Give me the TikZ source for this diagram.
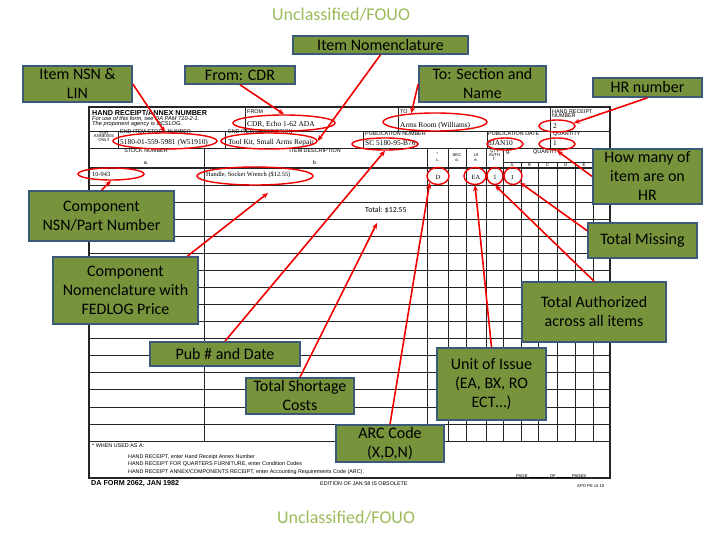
\documentclass[tikz,border=0pt]{standalone}
\usepackage{fontspec}
\setmainfont{Carlito}
\newfontfamily\formsans{Liberation Sans}
\newfontfamily\formserif{Liberation Serif}
\usetikzlibrary{shapes.geometric,arrows.meta}

\definecolor{vertbulle}{HTML}{77933C}
\definecolor{bordbulle}{HTML}{3B5A78}
\definecolor{vertclair}{HTML}{9BBB59}
\definecolor{rougefleche}{HTML}{F00000}

\begin{document}
\begin{tikzpicture}[x=1pt,y=-1pt,
  bulle/.style={rectangle, draw=bordbulle, line width=1.6pt, fill=vertbulle, inner sep=0pt, align=center, font=\fontsize{16}{19}\selectfont},
  entoure/.style={ellipse, draw=rougefleche, line width=1.4pt, inner sep=0pt},
  fleche/.style={draw=rougefleche, line width=1.6pt, -{Stealth[length=6pt,width=5pt]}},
  etiq/.style={anchor=base west, inner sep=0pt, font=\formsans\fontsize{5.4}{5.4}\selectfont},
  etiqmini/.style={anchor=base, inner sep=0pt, font=\formsans\fontsize{4.2}{4.2}\selectfont},
  titre/.style={anchor=base west, inner sep=0pt, font=\formsans\bfseries\fontsize{7.2}{7.2}\selectfont},
  notice/.style={anchor=base west, inner sep=0pt, font=\formsans\itshape\fontsize{5.7}{5.7}\selectfont},
  saisie/.style={anchor=base west, inner sep=0pt, font=\formserif\fontsize{7.4}{7.4}\selectfont},
  saisieligne/.style={anchor=base west, inner sep=0pt, font=\formserif\fontsize{6.4}{6.4}\selectfont}]

%%%%%%%%%%%%%%%%%%%%%%
%%%	 Def géométrie  %%%
%%%%%%%%%%%%%%%%%%%%%%

\def \gauche{89}
\def \droite{610}
\def \haut{107}
\def \ligneun{131}
\def \lignedeux{148}
\def \ligneqte{162}
\def \lignetrois{168}
\def \basdonnees{441}
\def \bas{478}
\def \pasligne{17.0625}

%%%%%%%%%%%%%%%%%%%%%%
%%%	   Def style    %%%
%%%%%%%%%%%%%%%%%%%%%%

\def \traitfort{1.2pt}
\def \traitfin{0.7pt}

\useasboundingbox (0,0) rectangle (720,540);

%%%%%%%%%%%%%%%%%%%%%%
%%%	  Formulaire    %%%
%%%%%%%%%%%%%%%%%%%%%%

\begin{scope}[draw=black!85]
\draw[line width=\traitfort] (\gauche,\haut) rectangle (\droite,\bas);
\draw[line width=\traitfin] (\gauche,\ligneun) -- (\droite,\ligneun);
\draw[line width=\traitfin] (\gauche,\lignedeux) -- (\droite,\lignedeux);
\draw[line width=\traitfort] (\gauche,\lignetrois) -- (\droite,\lignetrois);

% On dessine les séparations des deux lignes d'en-tête
\foreach \x in {245,398,550} \draw[line width=\traitfin] (\x,\haut) -- (\x,\ligneun);
\foreach \x in {118,225,363,487,550} \draw[line width=\traitfin] (\x,\ligneun) -- (\x,\lignedeux);

% On dessine les colonnes a à g
\foreach \x in {204,427,448,466,486,503} \draw[line width=\traitfin] (\x,\lignedeux) -- (\x,\basdonnees);
\foreach \x in {521,538,557,575,593} \draw[line width=\traitfin] (\x,\ligneqte) -- (\x,\basdonnees);
\draw[line width=\traitfin] (503,\ligneqte) -- (\droite,\ligneqte);

% On dessine les lignes de données
\foreach \i in {1,...,16} \draw[line width=\traitfin] (\gauche,\lignetrois+\i*\pasligne) -- (\droite,\lignetrois+\i*\pasligne);
\end{scope}

% Textes de l'en-tête
\node[titre] (hrtitre) at (92,116) {HAND RECEIPT/ANNEX NUMBER};
\node[notice] (hrpam) at (92,121) {For use of this form, see DA PAM 710-2-1.};
\node[notice] (hragence) at (92,125.5) {The proponent agency is DCSLOG.};
\node[etiq] (lfrom) at (247,114) {FROM};
\node[saisie] (vfrom) at (247,127) {CDR, Echo 1-62 ADA};
\node[etiq] (lto) at (400,114) {TO};
\node[saisie] (vto) at (400,128) {Arms Room (Williams)};
\node[etiq] (lhr) at (552,113.5) {HAND RECEIPT};
\node[etiq] (lhrb) at (552,117.5) {NUMBER};
\node[saisie] (vhr) at (553,129) {2};

\node[etiqmini] (lfor) at (104,134.5) {FOR};
\node[etiqmini] (lannex) at (104,138) {ANNEXES};
\node[etiqmini] (lonly) at (104,141.5) {ONLY};
\node[etiq] (lnsn) at (120,134) {END ITEM STOCK NUMBER};
\node[saisie] (vnsn) at (120,144.5) {5180-01-559-5981 (W51910)};
\node[etiq] (ldesc) at (228,134) {END ITEM DESCRIPTION};
\node[saisie] (vdesc) at (228,145) {Tool Kit, Small Arms Repair};
\node[etiq] (lpub) at (365,136) {PUBLICATION NUMBER};
\node[saisie] (vpub) at (365,146) {SC 5180-95-B76};
\node[etiq] (ldate) at (488,136) {PUBLICATION DATE};
\node[saisie] (vdate) at (488,146) {8JAN10};
\node[etiq] (lqty) at (553,136) {QUANTITY};
\node[saisie] (vqty) at (553,146) {1};

% Textes des colonnes
\node[etiq, anchor=base] (lca) at (146,153) {STOCK NUMBER};
\node[etiq, anchor=base] (lcab) at (146,165) {a.};
\node[etiq, anchor=base] (lcb) at (315,153) {ITEM DESCRIPTION};
\node[etiq, anchor=base] (lcbb) at (315,165) {b.};
\node[etiqmini] (lcc) at (437.5,156) {*};
\node[etiqmini] (lccb) at (437.5,161.5) {c.};
\node[etiqmini] (lcd) at (457,157) {SEC};
\node[etiqmini] (lcdb) at (457,161.5) {d.};
\node[etiqmini] (lce) at (476,157) {UI};
\node[etiqmini] (lceb) at (476,161.5) {e.};
\node[etiqmini] (lcf) at (494.5,152.5) {QTY};
\node[etiqmini] (lcfb) at (494.5,156.5) {AUTH};
\node[etiqmini] (lcfc) at (494.5,161) {f.};
\node[etiq] (lcg) at (506,154) {g.};
\node[etiq] (lcgb) at (533,154) {QUANTITY};
\foreach \lettre/\x in {A/512,B/529.5,C/547.5,D/566,E/584,F/601.5}
  \node[etiqmini] (lq\lettre) at (\x,166.5) {\lettre};

% Première ligne de données
\node[saisieligne] (vcomp) at (92,177) {10-943};
\node[saisieligne] (vhandle) at (206,177) {Handle, Socket Wrench (\$12.55)};
\node[saisieligne, anchor=base] (varc) at (438,180) {D};
\node[saisieligne, anchor=base] (vui) at (476,180) {EA};
\node[saisieligne, anchor=base] (vauth) at (495,180) {1};
\node[saisieligne, anchor=base] (vqa) at (512.5,180) {1};
\node[anchor=base west, inner sep=0pt, font=\fontsize{7.8}{7.8}\selectfont] (tottext) at (365,212) {Total: \$12.55};

% Pied du formulaire
\node[etiq] (lused) at (92,447) {* WHEN USED AS A:};
\node[etiq] (lusedun) at (128,458) {HAND RECEIPT, enter Hand Receipt Annex Number};
\node[etiq] (luseddeux) at (128,465.5) {HAND RECEIPT FOR QUARTERS FURNITURE, enter Condition Codes};
\node[etiq] (lusedtrois) at (128,473) {HAND RECEIPT ANNEX/COMPONENTS RECEIPT, enter Accounting Requirements Code (ARC).};
\node[titre] (lform) at (91,485) {DA FORM 2062, JAN 1982};
\node[etiq] (ledition) at (320,485) {EDITION OF JAN 58 IS OBSOLETE};
\node[etiqmini, anchor=base west] (lpage) at (516,477) {PAGE \rule{20pt}{0.3pt} OF \rule{14pt}{0.3pt} PAGES};
\node[etiqmini, anchor=base west] (lapo) at (577,487) {APO PE v2.10};

%%%%%%%%%%%%%%%%%%%%%%
%%%	  Entourages    %%%
%%%%%%%%%%%%%%%%%%%%%%

\node[entoure, minimum width=104pt, minimum height=16pt] (ensn) at (165,141) {};
\node[entoure, minimum width=102pt, minimum height=16pt] (ecdr) at (284,123) {};
\node[entoure, minimum width=96pt, minimum height=16pt] (etool) at (269,141) {};
\node[entoure, minimum width=66pt, minimum height=12pt] (ecomp) at (111,174) {};
\node[entoure, minimum width=116pt, minimum height=18pt] (ehandle) at (255,176) {};
\node[entoure, minimum width=104pt, minimum height=18pt] (earms) at (435,122) {};
\node[entoure, minimum width=36pt, minimum height=12pt] (ehr) at (557,126) {};
\node[entoure, minimum width=66pt, minimum height=12pt] (epub) at (385,144) {};
\node[entoure, minimum width=36pt, minimum height=12pt] (edate) at (505,144) {};
\node[entoure, minimum width=36pt, minimum height=12pt] (eqty) at (557,144) {};
\node[entoure, minimum width=22pt, minimum height=17pt] (ed) at (438,176) {};
\node[entoure, minimum width=22pt, minimum height=17pt] (eea) at (475,176) {};
\node[entoure, minimum width=16pt, minimum height=17pt] (eif) at (495,176) {};
\node[entoure, minimum width=18pt, minimum height=17pt] (eia) at (513,176) {};

%%%%%%%%%%%%%%%%%%%%%%
%%%	    Bulles      %%%
%%%%%%%%%%%%%%%%%%%%%%

\node[font=\fontsize{18}{18}\selectfont, text=vertclair] (classhaut) at (341,15) {Unclassified/FOUO};
\node[font=\fontsize{18}{18}\selectfont, text=vertclair] (classbas) at (346,518) {Unclassified/FOUO};

\node[bulle, minimum width=109pt, minimum height=36pt] (nsnlin) at (77.5,84) {Item NSN \&\\LIN};
\node[bulle, minimum width=110pt, minimum height=18pt] (fromcdr) at (240,75) {From: CDR};
\node[bulle, minimum width=175pt, minimum height=18pt] (itemnom) at (380.5,45) {Item Nomenclature};
\node[bulle, minimum width=127pt, minimum height=36pt] (tosec) at (482.5,84) {To: Section and\\Name};
\node[bulle, minimum width=109pt, minimum height=19pt] (hrnum) at (647.5,87.5) {HR number};
\node[bulle, minimum width=109pt, minimum height=55pt] (howmany) at (647.5,176.5) {How many of\\item are on\\HR};
\node[bulle, minimum width=145pt, minimum height=50pt] (compnsn) at (101.5,216) {Component\\NSN/Part Number};
\node[bulle, minimum width=109pt, minimum height=35pt] (totmiss) at (642.5,240.5) {Total Missing};
\node[bulle, minimum width=145pt, minimum height=67pt] (compnom) at (125.5,290.5) {Component\\Nomenclature with\\FEDLOG Price};
\node[bulle, minimum width=144pt, minimum height=60pt] (totauth) at (594,312) {Total Authorized\\across all items};
\node[bulle, minimum width=150pt, minimum height=24pt] (pubdate) at (225,354) {Pub \# and Date};
\node[bulle, minimum width=109pt, minimum height=72pt] (unitiss) at (491.5,384) {Unit of Issue\\(EA, BX, RO\\ECT…)};
\node[bulle, minimum width=108pt, minimum height=36pt] (totshort) at (300,396) {Total Shortage\\Costs};
\node[bulle, minimum width=108pt, minimum height=37pt] (arccode) at (390,443.5) {ARC Code\\(X,D,N)};

%%%%%%%%%%%%%%%%%%%%%%
%%%	    Flèches     %%%
%%%%%%%%%%%%%%%%%%%%%%

\coordinate (phandle) at (268,193);
\coordinate (ptotal) at (377,223);

\draw[fleche] (nsnlin.east) -- (ensn.north);
\draw[fleche] (fromcdr.south) -- (ecdr.north);
\draw[fleche] (itemnom.south) -- (etool.east);
\draw[fleche] (tosec.west) -- (earms.160);
\draw[fleche] (hrnum.south) -- (ehr.10);
\draw[fleche] (howmany.west) -- (eqty.south);
\draw[fleche] (totmiss.170) -- (eia.south east);
\draw[fleche] (totauth.north) -- (eif.south);
\draw[fleche] (unitiss.north) -- (eea.south);
\draw[fleche] (arccode.north) -- (ed.south west);
\draw[fleche] (totshort.north) -- (ptotal);
\draw[fleche] (pubdate.north) -- (epub.south);
\draw[fleche] (compnom.29) -- (phandle);
\draw[fleche] (compnsn.north) -- (ecomp.south);

%%%%%%%%%%%%%%%%%%%%%%%%%%%%%%%%%%%%%%%%%

\end{tikzpicture}
\end{document}
